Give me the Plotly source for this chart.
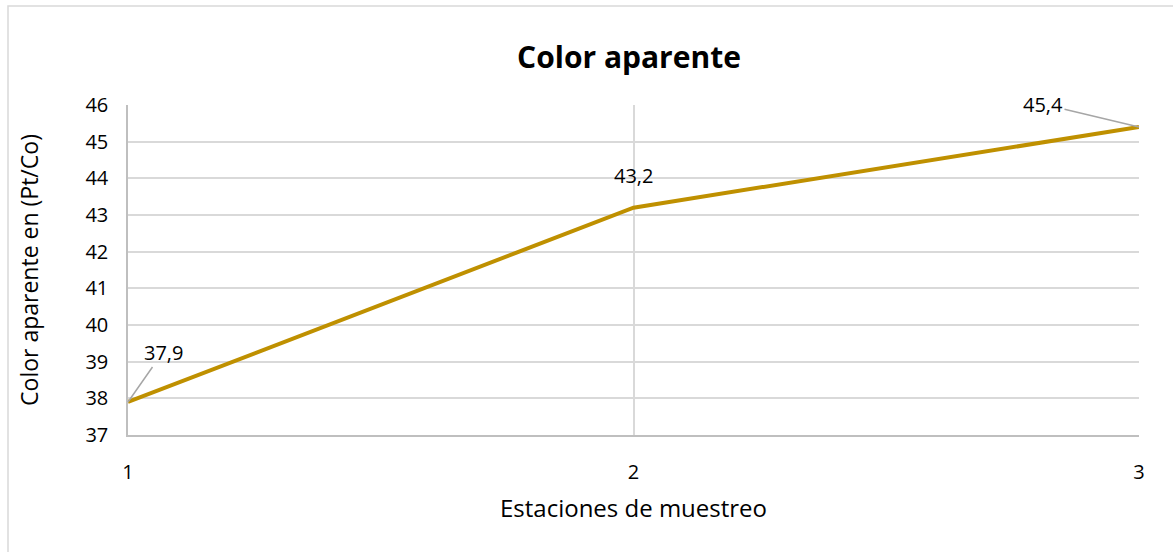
import plotly.graph_objects as go

estaciones = [1, 2, 3]
color_aparente = [37.9, 43.2, 45.4]
etiquetas = ["37,9", "43,2", "45,4"]
y_ticks = [37, 38, 39, 40, 41, 42, 43, 44, 45, 46]

W, H = 1173, 552
L, R, T, B = 128, 34, 105, 117
pw, ph = W - L - R, H - T - B

fig = go.Figure()
fig.add_trace(go.Scatter(
    x=estaciones, y=color_aparente, mode="lines",
    line=dict(color="#BF9000", width=4), hoverinfo="skip", showlegend=False,
))

font = "Open Sans, Liberation Sans, sans-serif"
offsets = [(35, -50), (0, -32), (-96, -23)]
for x, y, t, (ax, ay) in zip(estaciones, color_aparente, etiquetas, offsets):
    arrow = (x != 2)
    fig.add_annotation(
        x=x, y=y, text=t, showarrow=arrow, arrowhead=0, arrowwidth=1.5,
        arrowcolor="#A6A6A6", ax=ax if arrow else 0, ay=ay if arrow else 0,
        yshift=0 if arrow else 32,
        font=dict(family=font, size=20, color="#000000"),
    )

# chart border (Excel chart area outline)
fig.add_shape(type="rect", xref="paper", yref="paper",
              x0=(8 - L) / pw, x1=(W + 10 - L) / pw,
              y0=(H - B - (H + 10)) / ph, y1=(H - B - 6) / ph,
              line=dict(color="#D9D9D9", width=1.5), fillcolor="rgba(0,0,0,0)", layer="below")

fig.update_layout(
    width=W, height=H,
    margin=dict(l=L, r=R, t=T, b=B),
    paper_bgcolor="white", plot_bgcolor="white",
    font=dict(family=font, size=20, color="#000000"),
    title=dict(text="<b>Color aparente</b>", x=629 / W, xanchor="center",
               y=1 - 57 / H, yanchor="middle",
               font=dict(family=font, size=30, color="#000000")),
    xaxis=dict(range=[1, 3], tickvals=estaciones, ticktext=[str(e) for e in estaciones],
               showgrid=True, gridcolor="#D9D9D9", gridwidth=1.5,
               showline=True, linecolor="#BFBFBF", linewidth=1.5,
               zeroline=False, ticks="", ticklabelstandoff=18,
               tickfont=dict(size=20),
               title=dict(text="Estaciones de muestreo", standoff=16,
                          font=dict(size=24))),
    yaxis=dict(range=[37, 46], tickvals=y_ticks,
               showgrid=True, gridcolor="#D9D9D9", gridwidth=1.5,
               showline=True, linecolor="#BFBFBF", linewidth=1.5,
               zeroline=False, ticks="", ticklabelstandoff=14,
               tickfont=dict(size=20),
               title=dict(text="Color aparente en (Pt/Co)", standoff=40,
                          font=dict(size=23))),
)

fig.write_html("out.html")
